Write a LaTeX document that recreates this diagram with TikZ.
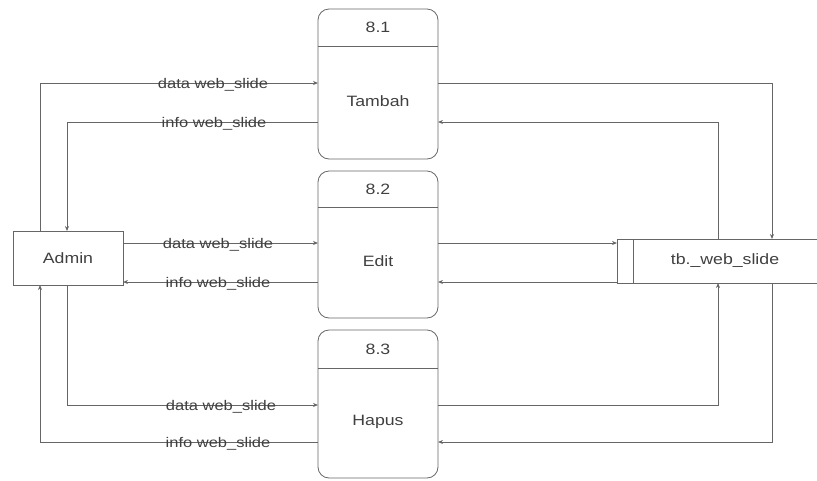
\documentclass[tikz,border=0pt]{standalone}
\usepackage{fontspec}
\setmainfont{Liberation Sans}
\usetikzlibrary{arrows.meta}
\newcommand{\wide}[1]{\scalebox{1.18}[1]{#1}}
\begin{document}
\begin{tikzpicture}[x=1pt,y=-1pt,
  ln/.style={draw=black!60,line width=0.8pt},
  flow/.style={ln,-{Stealth[length=5pt,width=4pt]}},
  lbl/.style={font=\fontsize{14}{16}\selectfont,text=black!75,inner sep=0pt},
  txt/.style={font=\fontsize{15}{17}\selectfont,text=black!75}]
\useasboundingbox (0,0) rectangle (817,480);
% processes
\foreach \n/\t/\b/\d/\lab/\num in {p1/9/159/46/Tambah/8.1, p2/171/318/207/Edit/8.2, p3/330/478/368/Hapus/8.3}{
  \draw[ln,rounded corners=11pt] (318,\t) rectangle (438,\b);
  \draw[ln] (318,\d) -- (438,\d);
  \node[txt] (\n num) at (378,{(\t+\d)/2}) {\wide{\num}};
  \node[txt] (\n) at (378,{(\d+\b)/2-1}) {\wide{\lab}};
}
% admin
\node[draw=black!60,line width=0.8pt,minimum width=110pt,minimum height=54pt,txt,inner sep=0pt] (admin) at (68,258) {\wide{Admin}};
% data store
\draw[ln] (817,239) -- (617,239) -- (617,283) -- (817,283);
\draw[ln] (633,239) -- (633,283);
\node[txt] (ds) at (725,261) {\wide{tb.\_web\_slide}};
% coordinates
\coordinate (a1) at (40,83); \coordinate (a2) at (67,122);
\coordinate (r1) at (772,83); \coordinate (r2) at (718,122);
\coordinate (a3) at (67,405); \coordinate (a4) at (40,442);
\coordinate (r3) at (718,405); \coordinate (r4) at (772,442);
% flows Tambah
\draw[flow] (40,231) -- (a1) -- (318,83);
\draw[flow] (318,122) -- (a2) -- (67,231);
\draw[flow] (438,83) -- (r1) -- (772,239);
\draw[flow] (718,239) -- (r2) -- (438,122);
% flows Edit
\draw[flow] (123,243) -- (318,243);
\draw[flow] (318,282) -- (123,282);
\draw[flow] (438,243) -- (617,243);
\draw[flow] (617,282) -- (438,282);
% flows Hapus
\draw[flow] (67,285) -- (a3) -- (318,405);
\draw[flow] (318,442) -- (a4) -- (40,285);
\draw[flow] (438,405) -- (r3) -- (718,283);
\draw[flow] (772,283) -- (r4) -- (438,442);
% labels
\node[lbl] (l1) at (213,85) {\wide{data web\_slide}};
\node[lbl] (l2) at (214,124) {\wide{info web\_slide}};
\node[lbl] (l3) at (218,245) {\wide{data web\_slide}};
\node[lbl] (l4) at (218,284) {\wide{info web\_slide}};
\node[lbl] (l5) at (221,407) {\wide{data web\_slide}};
\node[lbl] (l6) at (218,444) {\wide{info web\_slide}};
\end{tikzpicture}
\end{document}
